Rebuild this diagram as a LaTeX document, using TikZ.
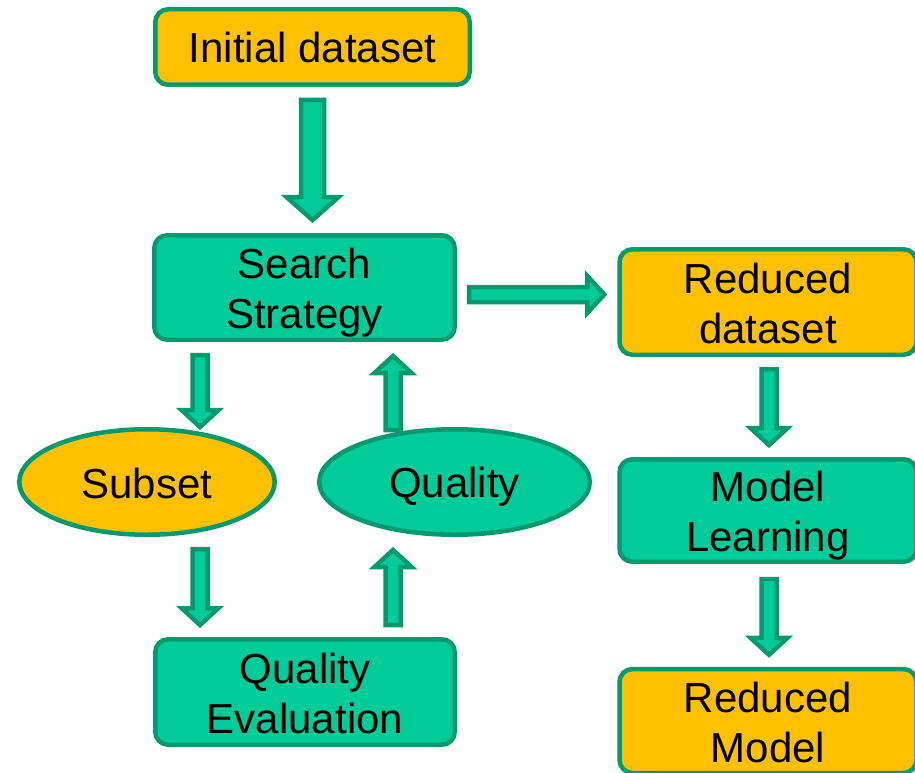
\documentclass[tikz,border=0pt]{standalone}
\usepackage{fontspec}
\setmainfont{Liberation Sans}
\usetikzlibrary{shapes.geometric,calc}
\definecolor{bgreen}{HTML}{00CC99}
\definecolor{dgreen}{HTML}{009A6E}
\definecolor{gold}{HTML}{FFC000}
\newcommand{\ls}{\rule[-8pt]{0pt}{48pt}}
% #1 tail, #2 tip, #3 ux, #4 uy, #5 shaft half width, #6 head half width, #7 head length
\newcommand{\barrow}[7]{%
  \draw[blockarrow]
  ($(#1)+({-(#4)*(#5)},{(#3)*(#5)})$) --
  ($(#2)+({-(#3)*(#7)-(#4)*(#5)},{-(#4)*(#7)+(#3)*(#5)})$) --
  ($(#2)+({-(#3)*(#7)-(#4)*(#6)},{-(#4)*(#7)+(#3)*(#6)})$) --
  (#2) --
  ($(#2)+({-(#3)*(#7)+(#4)*(#6)},{-(#4)*(#7)-(#3)*(#6)})$) --
  ($(#2)+({-(#3)*(#7)+(#4)*(#5)},{-(#4)*(#7)-(#3)*(#5)})$) --
  ($(#1)+({(#4)*(#5)},{-(#3)*(#5)})$) -- cycle;}
\begin{document}
\begin{tikzpicture}[x=1pt,y=-1pt,
  basebox/.style={draw=dgreen, line width=4.5pt, inner sep=0pt, align=center,
    font=\fontsize{42}{50}\selectfont},
  box/.style={basebox, rectangle, rounded corners=13pt},
  oval/.style={basebox, ellipse},
  greenfill/.style={fill=bgreen},
  goldfill/.style={fill=gold},
  blockarrow/.style={draw=dgreen, fill=bgreen, line width=4.5pt, line join=miter}]
\clip (0,0) rectangle (915,773);
\fill[white] (0,0) rectangle (915,773);

\node[box, goldfill, minimum width=314.5pt, minimum height=75.5pt] (init) at (312.5,47) {\ls Initial dataset};
\node[box, greenfill, minimum width=300.5pt, minimum height=104.5pt] (search) at (304.5,287.5) {\ls Search\\\ls Strategy};
\node[box, goldfill, minimum width=297pt, minimum height=105.5pt] (reduced) at (768,302) {\ls Reduced\\\ls dataset};
\node[box, greenfill, minimum width=297pt, minimum height=102.5pt] (model) at (768,510.5) {\ls Model\\\ls Learning};
\node[box, goldfill, minimum width=297pt, minimum height=104pt] (rmodel) at (768,721) {\ls Reduced\\\ls Model};
\node[box, greenfill, minimum width=299.5pt, minimum height=105.5pt] (qeval) at (305,692) {\ls Quality\\\ls Evaluation};
\node[oval, goldfill, minimum width=255.5pt, minimum height=105.5pt] (subset) at (147,482) {\ls Subset};
\node[oval, greenfill, minimum width=270.5pt, minimum height=105.5pt] (quality) at (454.5,482) {\ls Quality};

\coordinate (a1s) at ($(init.south)+(0,13)$);
\coordinate (a1e) at ($(a1s |- search.north)+(0,-13)$);
\coordinate (a2s) at ($(search.east)+(12,7)$);
\coordinate (a2e) at ($(reduced.west |- a2s)+(-13,0)$);
\coordinate (a3s) at ($(search.south)+(-104.5,13)$);
\coordinate (a3e) at ($(a3s |- subset.north)+(0,0)$);
\coordinate (a4s) at ($(quality.north)+(-61.5,3)$);
\coordinate (a4e) at ($(a4s |- search.south)+(0,14)$);
\coordinate (a5s) at ($(a3s |- subset.south)+(0,12)$);
\coordinate (a5e) at ($(a3s |- qeval.north)+(0,-12)$);
\coordinate (a6s) at ($(a4s |- qeval.north)+(0,-12)$);
\coordinate (a6e) at ($(a4s |- quality.south)+(0,13)$);
\coordinate (a7s) at ($(reduced.south)+(1,12)$);
\coordinate (a7e) at ($(a7s |- model.north)+(0,-12)$);
\coordinate (a8s) at ($(a7s |- model.south)+(0,15)$);
\coordinate (a8e) at ($(a7s |- rmodel.north)+(0,-12)$);

\barrow{a1s}{a1e}{0}{1}{11.5}{26}{23}
\barrow{a2s}{a2e}{1}{0}{7.5}{18.5}{17}
\barrow{a3s}{a3e}{0}{1}{7.5}{18.5}{17}
\barrow{a4s}{a4e}{0}{-1}{7.5}{18.5}{17}
\barrow{a5s}{a5e}{0}{1}{7.5}{18.5}{17}
\barrow{a6s}{a6e}{0}{-1}{7.5}{18.5}{17}
\barrow{a7s}{a7e}{0}{1}{7.5}{18.5}{17}
\barrow{a8s}{a8e}{0}{1}{7.5}{18.5}{17}
\end{tikzpicture}
\end{document}
